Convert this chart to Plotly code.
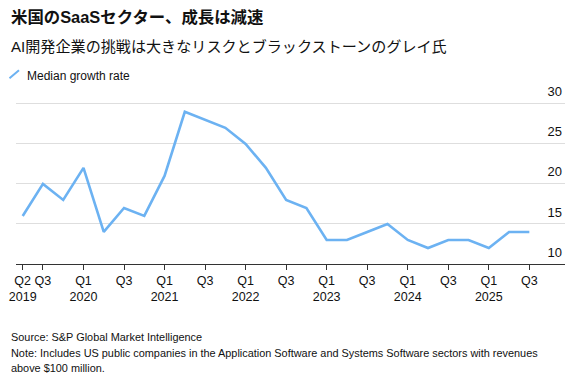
import plotly.graph_objects as go

# ---- data ----
quarters = [
    "Q2 2019", "Q3 2019", "Q4 2019",
    "Q1 2020", "Q2 2020", "Q3 2020", "Q4 2020",
    "Q1 2021", "Q2 2021", "Q3 2021", "Q4 2021",
    "Q1 2022", "Q2 2022", "Q3 2022", "Q4 2022",
    "Q1 2023", "Q2 2023", "Q3 2023", "Q4 2023",
    "Q1 2024", "Q2 2024", "Q3 2024", "Q4 2024",
    "Q1 2025", "Q2 2025", "Q3 2025",
]
median_growth = [16, 20, 18,
                 22, 14, 17, 16,
                 21, 29, 28, 27,
                 25, 22, 18, 17,
                 13, 13, 14, 15,
                 13, 12, 13, 13,
                 12, 14, 14]

tick_quarters = ["Q2 2019", "Q3 2019", "Q1 2020", "Q3 2020", "Q1 2021", "Q3 2021",
                 "Q1 2022", "Q3 2022", "Q1 2023", "Q3 2023", "Q1 2024", "Q3 2024",
                 "Q1 2025", "Q3 2025"]
tick_labels = ["Q2<br>2019", "Q3", "Q1<br>2020", "Q3", "Q1<br>2021", "Q3",
               "Q1<br>2022", "Q3", "Q1<br>2023", "Q3", "Q1<br>2024", "Q3",
               "Q1<br>2025", "Q3"]
y_ticks = [10, 15, 20, 25, 30]

title = "米国のSaaSセクター、成長は減速"
subtitle = "AI開発企業の挑戦は大きなリスクとブラックストーンのグレイ氏"
legend_label = "Median growth rate"
source = "Source: S&P Global Market Intelligence"
note1 = "Note: Includes US public companies in the Application Software and Systems Software sectors with revenues"
note2 = "above $100 million."

# ---- layout geometry (page pixels; the page body adds an 8px margin) ----
PAGE_W, PAGE_H = 586, 386
OFF = 8
W, H = PAGE_W - OFF, PAGE_H - OFF
L, R = 16, 565            # plot area left/right on the page
Y_MIN, Y_MAX = 10, 32.6
PX_PER_UNIT = 8.0
B = 264                   # page y of value 10
T = B - (Y_MAX - Y_MIN) * PX_PER_UNIT
PW, PH = R - L, B - T

def px(x):
    return (x - L) / PW

def py(y):
    return (B - y) / PH

FONT = "Liberation Sans, Arial, Noto Sans CJK JP, sans-serif"
LINE_COLOR = "rgb(108,178,242)"

fig = go.Figure()
fig.add_trace(go.Scatter(
    x=quarters, y=median_growth, mode="lines",
    line=dict(color=LINE_COLOR, width=2.6),
    showlegend=False, hoverinfo="skip",
))

fig.update_layout(
    width=W, height=H,
    margin=dict(l=L - OFF, r=PAGE_W - R, t=T - OFF, b=PAGE_H - B, pad=0),
    paper_bgcolor="white", plot_bgcolor="white",
    font=dict(family=FONT, color="#111", size=12),
    showlegend=False,
    xaxis=dict(
        type="category",
        range=[-0.33, 26.76],
        tickmode="array", tickvals=tick_quarters, ticktext=tick_labels,
        tickangle=0, automargin=False,
        ticks="outside", ticklen=5, tickwidth=1, tickcolor="#333",
        showline=True, linecolor="#333", linewidth=1,
        showgrid=False, zeroline=False,
        tickfont=dict(size=12.5, color="#111"),
        fixedrange=True,
    ),
    yaxis=dict(
        range=[Y_MIN, Y_MAX], side="right", automargin=False,
        tickmode="array", tickvals=y_ticks,
        ticklabelposition="inside",
        ticklabelshift=-12, ticklabelstandoff=0,
        showgrid=True, gridcolor="#dedede", gridwidth=1,
        showline=False, zeroline=False, ticks="",
        tickfont=dict(size=13, color="#111"),
        fixedrange=True,
    ),
)

anns = [
    dict(text="<b>" + title + "</b>", x=px(9), y=py(17), size=16.4),
    dict(text=subtitle, x=px(9), y=py(47), size=15.1),
    dict(text=legend_label, x=px(25), y=py(76), size=12),
    dict(text=source, x=px(9), y=py(337), size=10.9),
    dict(text=note1, x=px(9), y=py(352.5), size=10.9),
    dict(text=note2, x=px(9), y=py(368), size=10.9),
]
for a in anns:
    fig.add_annotation(
        text=a["text"], x=a["x"], y=a["y"], xref="paper", yref="paper",
        xanchor="left", yanchor="middle", showarrow=False,
        font=dict(family=FONT, size=a["size"], color="#111"),
    )

# legend glyph (short diagonal stroke)
fig.add_shape(type="line", xref="paper", yref="paper",
              x0=px(9.5), y0=py(78.5), x1=px(19), y1=py(70.5),
              line=dict(color=LINE_COLOR, width=2))

fig.write_html("out.html")
